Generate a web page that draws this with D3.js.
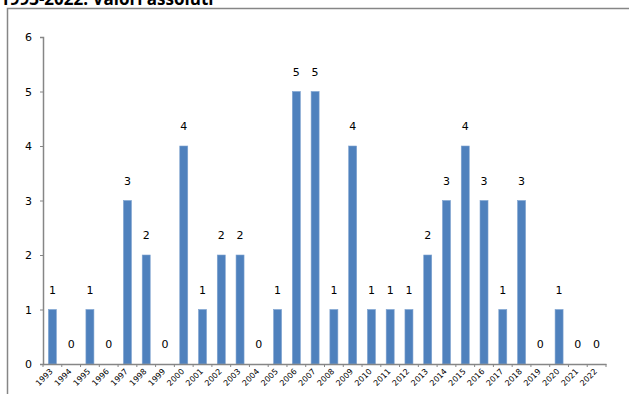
<!DOCTYPE html>
<meta charset="utf-8">
<style>
body { margin: 0; background: #fff; }
text { font-family: "DejaVu Sans", Verdana, sans-serif; fill: #000; }
.asse path, .asse line { stroke: #868686; }
</style>

<svg width="629" height="394"></svg>

<script src="https://d3js.org/d3.v7.min.js"></script>
<script>

var anni = ["1993","1994","1995","1996","1997","1998","1999","2000","2001","2002",
            "2003","2004","2005","2006","2007","2008","2009","2010","2011","2012",
            "2013","2014","2015","2016","2017","2018","2019","2020","2021","2022"];
var valori = [1,0,1,0,3,2,0,4,1,2,
              2,0,1,5,5,1,4,1,1,1,
              2,3,4,3,1,3,0,1,0,0];
var tickY = [0,1,2,3,4,5,6];

var svg = d3.select("svg");

// titolo tagliato in alto, come nell'immagine
svg.append("text")
    .attr("x", 0).attr("y", 5)
    .style("font-family", "'Open Sans', 'DejaVu Sans', sans-serif")
    .style("font-weight", "bold")
    .style("font-size", "17px")
    .text("1993-2022. Valori assoluti");

// cornice del grafico
svg.append("rect")
    .attr("x", 7.5).attr("y", 8.5)
    .attr("width", 640).attr("height", 400)
    .attr("fill", "none")
    .attr("stroke", "#868686")
    .attr("stroke-width", 1.5);

var x = d3.scaleBand().domain(anni).range([43, 606]);
var y = d3.scaleLinear().domain([0, 6]).range([364, 37]);

var g = svg.append("g");

g.selectAll("rect.barra")
  .data(valori)
  .enter().append("rect")
    .attr("class", "barra")
    .attr("x", (d, i) => x(anni[i]) + x.bandwidth() / 2 - 4)
    .attr("width", 8)
    .attr("y", d => y(d))
    .attr("height", d => y(0) - y(d))
    .attr("fill", "#4f81bd")
    .attr("stroke", "#7fa3d0")
    .attr("stroke-width", 0.6);

g.selectAll("text.valore")
  .data(valori)
  .enter().append("text")
    .attr("class", "valore")
    .attr("x", (d, i) => x(anni[i]) + x.bandwidth() / 2)
    .attr("y", d => y(d) - 16)
    .attr("text-anchor", "middle")
    .style("font-size", "11px")
    .text(d => d);

// asse y
svg.append("g")
    .attr("class", "asse")
    .attr("transform", "translate(43,0)")
    .call(d3.axisLeft(y).tickValues(tickY).tickFormat(d3.format("d"))
            .tickSize(3).tickSizeOuter(3).tickPadding(8))
    .call(s => s.selectAll("text").style("font-size", "11px"))
    .call(s => s.select(".domain").attr("stroke-width", 1.5));

// asse x
var ax = svg.append("g")
    .attr("class", "asse")
    .attr("transform", "translate(0,364)")
    .call(d3.axisBottom(x).tickSize(0).tickSizeOuter(0).tickFormat(""))
    .call(s => s.select(".domain").attr("stroke-width", 1.5));

// piccole tacche tra le categorie
ax.selectAll("line.tacca")
  .data(anni.concat(["fine"]))
  .enter().append("line")
    .attr("class", "tacca")
    .attr("x1", (d, i) => 43 + i * x.step())
    .attr("x2", (d, i) => 43 + i * x.step())
    .attr("y1", 0).attr("y2", 3)
    .attr("stroke", "#868686");

ax.selectAll("text.anno")
  .data(anni)
  .enter().append("text")
    .attr("class", "anno")
    .attr("transform", d => "translate(" + (x(d) + x.bandwidth() / 2 - 1) + ",6) rotate(-45)")
    .attr("text-anchor", "end")
    .attr("dy", "0.35em")
    .style("font-size", "8px")
    .text(d => d);

</script>
